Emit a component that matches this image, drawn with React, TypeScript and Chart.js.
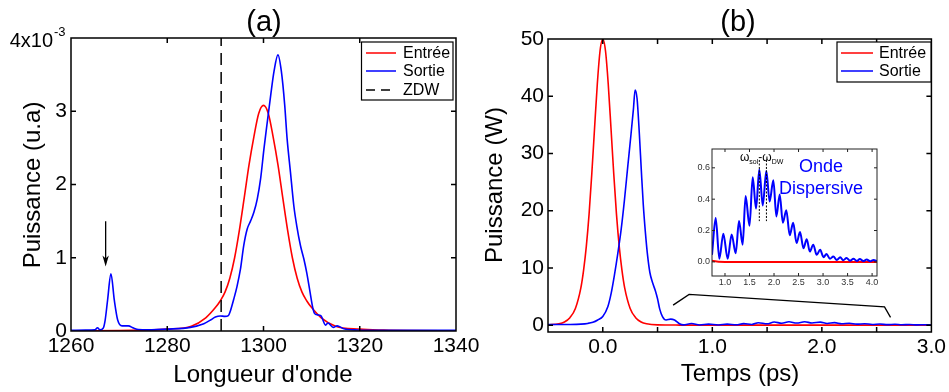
import React, { useEffect, useRef } from "react";
import { Chart, registerables } from "chart.js";

Chart.register(...registerables);

const FONT = "'Liberation Sans', Arial, Helvetica, sans-serif";
const RED = "rgb(255,0,0)";
const BLUE = "rgb(0,0,255)";

// ---------- Panel (a): spectrum ----------
const wavelengthIn = [1260, 1270, 1275, 1280, 1285, 1288, 1290, 1291, 1292, 1293, 1294, 1295, 1296, 1297, 1298, 1299, 1300, 1301, 1302, 1303, 1304, 1305, 1306, 1307, 1308, 1309, 1310, 1312, 1315, 1320, 1325, 1330, 1340];
const powerSpecIn = [0.004, 0.006, 0.012, 0.025, 0.065, 0.18, 0.32, 0.41, 0.53, 0.72, 1.0, 1.38, 1.82, 2.27, 2.65, 2.97, 3.08, 2.97, 2.65, 2.27, 1.82, 1.38, 1.0, 0.72, 0.53, 0.41, 0.32, 0.18, 0.065, 0.025, 0.012, 0.006, 0.003];
const wavelengthOut = [1260, 1263, 1265, 1265.5, 1266, 1266.7, 1267.1, 1267.6, 1268.3, 1269.0, 1269.7, 1270.6, 1271.9, 1273.0, 1274, 1276, 1280, 1284.8, 1287.6, 1289, 1290, 1291, 1292, 1292.7, 1293.1, 1293.8, 1294.5, 1295.2, 1295.9, 1296.6, 1297.3, 1298.0, 1298.7, 1299.4, 1300.1, 1300.8, 1301.5, 1302.2, 1303.0, 1303.7, 1304.4, 1304.9, 1305.6, 1306.3, 1306.9, 1307.7, 1308.4, 1309.0, 1309.7, 1310.2, 1310.6, 1311.2, 1311.9, 1312.9, 1313.4, 1314.5, 1315.3, 1316.7, 1319.5, 1325, 1340];
const powerSpecOut = [0.01, 0.012, 0.015, 0.045, 0.015, 0.04, 0.15, 0.42, 0.78, 0.42, 0.15, 0.07, 0.07, 0.04, 0.02, 0.015, 0.025, 0.05, 0.1, 0.15, 0.19, 0.205, 0.2, 0.21, 0.27, 0.43, 0.61, 0.84, 1.17, 1.39, 1.5, 1.62, 1.8, 2.08, 2.49, 2.86, 3.22, 3.55, 3.77, 3.55, 3.09, 2.63, 2.17, 1.71, 1.44, 1.16, 0.98, 0.79, 0.52, 0.33, 0.24, 0.22, 0.21, 0.08, 0.11, 0.05, 0.07, 0.03, 0.014, 0.01, 0.01];
const zdwWavelength = 1291.2;
const aXTicks = [1260, 1280, 1300, 1320, 1340];
const aYTicks = [0, 1, 2, 3, 4];
const arrowA = { x: 1267.2, yTop: 1.5, yTip: 0.88 };

// ---------- Panel (b): temporal ----------
const timeIn = [-0.5, -0.4, -0.35, -0.3, -0.25, -0.2, -0.175, -0.15, -0.125, -0.1, -0.075, -0.05, -0.025, 0, 0.025, 0.05, 0.075, 0.1, 0.125, 0.15, 0.175, 0.2, 0.25, 0.3, 0.35, 0.4, 0.5, 0.7, 1.0, 2.0, 3.0, 4.1];
const powerTimeIn = [0.05, 0.24, 0.55, 1.3, 2.9, 6.5, 9.6, 13.8, 19.4, 26.5, 34.4, 42.1, 47.9, 50, 47.9, 42.1, 34.4, 26.5, 19.4, 13.8, 9.6, 6.5, 2.9, 1.3, 0.55, 0.24, 0.05, 0.01, 0, 0, 0, 0];
const timeOutPulse = [-0.5, -0.3, -0.2, -0.137, -0.09, -0.046, 0, 0.046, 0.076, 0.106, 0.137, 0.167, 0.198, 0.228, 0.258, 0.28, 0.295, 0.313, 0.334, 0.352, 0.37, 0.39, 0.41, 0.43, 0.455, 0.48, 0.5, 0.52, 0.545, 0.578, 0.62, 0.655, 0.7];
const powerOutPulse = [0.1, 0.12, 0.18, 0.3, 0.5, 0.9, 1.5, 3.2, 5.5, 8.7, 12.5, 16.6, 21.9, 27.7, 33.4, 37.8, 41.1, 39.6, 33.4, 27, 21, 16, 12, 9.2, 7.4, 6.0, 4.6, 2.8, 1.5, 0.9, 1.05, 0.9, 0.25];
// dispersive wave (tail of output, also shown in the inset)
const timeDW = [0.735, 0.81, 0.885, 0.966, 1.054, 1.136, 1.218, 1.286, 1.36, 1.42, 1.5, 1.565, 1.633, 1.7, 1.77, 1.843, 1.91, 1.986, 2.048, 2.116, 2.18, 2.25, 2.32, 2.39, 2.46, 2.53, 2.6, 2.667, 2.73, 2.8, 2.87, 2.94, 3.01, 3.07, 3.14, 3.21, 3.28, 3.35, 3.41, 3.48, 3.55, 3.62, 3.69, 3.75, 3.82, 3.89, 3.96, 4.03, 4.1];
const powerDW = [0.045, 0.28, 0.02, 0.18, 0.02, 0.175, 0.055, 0.26, 0.11, 0.42, 0.23, 0.54, 0.34, 0.59, 0.36, 0.58, 0.385, 0.52, 0.29, 0.43, 0.25, 0.33, 0.17, 0.25, 0.12, 0.19, 0.087, 0.145, 0.066, 0.11, 0.045, 0.077, 0.03, 0.05, 0.02, 0.035, 0.012, 0.03, 0.01, 0.025, 0.008, 0.02, 0.006, 0.018, 0.005, 0.015, 0.004, 0.012, 0.005];
const bXTicks = [-0.5, 0, 0.5, 1, 1.5, 2, 2.5, 3];
const bYTicks = [0, 10, 20, 30, 40, 50];
const zoomBracket = [
  { x: 0.642, y: 3.5 },
  { x: 0.788, y: 5.37 },
  { x: 2.572, y: 3.2 },
  { x: 2.627, y: 1.35 },
];

// ---------- Inset ----------
const insetXTicks = [1.0, 1.5, 2.0, 2.5, 3.0, 3.5, 4.0];
const insetYTicks = [0, 0.2, 0.4, 0.6];
const omegaMarks = [1.7, 1.845];
const omegaMarkRange = [0.26, 0.65];

const toPts = (xs: number[], ys: number[]) => xs.map((x, i) => ({ x, y: ys[i] }));

function makeFrame(tickLen: number, lineWidth: number, color: string, bg?: string) {
  return {
    id: "frameTicks",
    beforeDatasetsDraw(chart: any) {
      if (!bg) return;
      const { ctx, chartArea } = chart;
      ctx.save();
      ctx.fillStyle = bg;
      ctx.fillRect(chartArea.left, chartArea.top, chartArea.right - chartArea.left, chartArea.bottom - chartArea.top);
      ctx.restore();
    },
    afterDatasetsDraw(chart: any) {
      const { ctx, chartArea } = chart;
      const { left, right, top, bottom } = chartArea;
      const xs = chart.scales.x;
      const ys = chart.scales.y;
      ctx.save();
      ctx.strokeStyle = color;
      ctx.lineWidth = lineWidth;
      ctx.beginPath();
      xs.ticks.forEach((t: any) => {
        const p = xs.getPixelForValue(t.value);
        if (p <= left + 1 || p >= right - 1) return;
        ctx.moveTo(p, bottom);
        ctx.lineTo(p, bottom - tickLen);
        ctx.moveTo(p, top);
        ctx.lineTo(p, top + tickLen);
      });
      ys.ticks.forEach((t: any) => {
        const p = ys.getPixelForValue(t.value);
        if (p <= top + 1 || p >= bottom - 1) return;
        ctx.moveTo(left, p);
        ctx.lineTo(left + tickLen, p);
        ctx.moveTo(right, p);
        ctx.lineTo(right - tickLen, p);
      });
      ctx.stroke();
      ctx.strokeRect(left, top, right - left, bottom - top);
      ctx.restore();
    },
  };
}

function makeOverlay(draw: (chart: any, ctx: CanvasRenderingContext2D) => void) {
  return {
    id: "overlayText",
    afterDraw(chart: any) {
      const ctx = chart.ctx as CanvasRenderingContext2D;
      ctx.save();
      draw(chart, ctx);
      ctx.restore();
    },
  };
}

function drawLegend(
  ctx: CanvasRenderingContext2D,
  box: { x: number; y: number; w: number; h: number },
  items: { label: string; color: string; dash?: number[]; y: number }[],
  lineX0: number,
  lineX1: number,
  textX: number
) {
  ctx.fillStyle = "#fff";
  ctx.fillRect(box.x, box.y, box.w, box.h);
  ctx.strokeStyle = "#000";
  ctx.lineWidth = 1.2;
  ctx.strokeRect(box.x, box.y, box.w, box.h);
  items.forEach((it) => {
    ctx.beginPath();
    ctx.strokeStyle = it.color;
    ctx.lineWidth = 1.5;
    ctx.setLineDash(it.dash || []);
    ctx.moveTo(lineX0, it.y);
    ctx.lineTo(lineX1, it.y);
    ctx.stroke();
    ctx.setLineDash([]);
    ctx.fillStyle = "#000";
    ctx.font = `16px ${FONT}`;
    ctx.textAlign = "left";
    ctx.textBaseline = "middle";
    ctx.fillText(it.label, textX, it.y + 1);
  });
}

function drawRotated(ctx: CanvasRenderingContext2D, text: string, x: number, y: number, font: string) {
  ctx.save();
  ctx.translate(x, y);
  ctx.rotate(-Math.PI / 2);
  ctx.font = font;
  ctx.fillStyle = "#000";
  ctx.textAlign = "center";
  ctx.textBaseline = "alphabetic";
  ctx.fillText(text, 0, 0);
  ctx.restore();
}

function drawCentered(ctx: CanvasRenderingContext2D, text: string, x: number, y: number, font: string, color = "#000") {
  ctx.font = font;
  ctx.fillStyle = color;
  ctx.textAlign = "center";
  ctx.textBaseline = "alphabetic";
  ctx.fillText(text, x, y);
}

const tickFont = { family: FONT, size: 21 };

function configA(): any {
  return {
    type: "line",
    data: {
      datasets: [
        { label: "ZDW", data: [{ x: zdwWavelength, y: 0 }, { x: zdwWavelength, y: 4 }], borderColor: "#000", borderWidth: 1.5, borderDash: [12, 7], pointRadius: 0, tension: 0, order: 1 },
        { label: "Sortie", data: toPts(wavelengthOut, powerSpecOut), borderColor: BLUE, borderWidth: 1.6, pointRadius: 0, cubicInterpolationMode: "monotone", order: 2 },
        { label: "Entrée", data: toPts(wavelengthIn, powerSpecIn), borderColor: RED, borderWidth: 1.6, pointRadius: 0, cubicInterpolationMode: "monotone", order: 3 },
      ],
    },
    options: {
      animation: false,
      responsive: false,
      devicePixelRatio: 1,
      layout: { padding: { left: 0, top: 38, right: 949 - 456, bottom: 0 } },
      plugins: { legend: { display: false }, tooltip: { enabled: false } },
      scales: {
        x: {
          type: "linear", min: 1260, max: 1340,
          afterBuildTicks: (s: any) => { s.ticks = aXTicks.map((v) => ({ value: v })); },
          afterFit: (s: any) => { s.height = 392 - 331; },
          grid: { display: false, drawTicks: false }, border: { display: false },
          ticks: { font: tickFont, color: "#000", padding: 3, maxRotation: 0, autoSkip: false, callback: (v: any) => String(v) },
        },
        y: {
          type: "linear", min: 0, max: 4,
          afterBuildTicks: (s: any) => { s.ticks = aYTicks.map((v) => ({ value: v })); },
          afterFit: (s: any) => { s.width = 71; },
          grid: { display: false, drawTicks: false }, border: { display: false },
          ticks: { font: tickFont, color: "#000", padding: 4, autoSkip: false, callback: (v: any) => (v === 4 ? "" : String(v)) },
        },
      },
    },
    plugins: [
      makeFrame(5, 1.5, "#000"),
      makeOverlay((chart, ctx) => {
        const xs = chart.scales.x, ys = chart.scales.y;
        drawCentered(ctx, "(a)", 264, 31, `29px ${FONT}`);
        drawCentered(ctx, "Longueur d'onde", 263, 382, `24px ${FONT}`);
        drawRotated(ctx, "Puissance (u.a)", 40, 185, `24px ${FONT}`);
        // 4x10^-3
        ctx.font = `20px ${FONT}`;
        ctx.fillStyle = "#000";
        ctx.textAlign = "right";
        ctx.textBaseline = "alphabetic";
        ctx.fillText("4x10", 53, 47);
        ctx.font = `13px ${FONT}`;
        ctx.textAlign = "left";
        ctx.fillText("-3", 54, 36);
        // arrow
        const ax = xs.getPixelForValue(arrowA.x);
        const ay0 = ys.getPixelForValue(arrowA.yTop);
        const ay1 = ys.getPixelForValue(arrowA.yTip);
        ctx.strokeStyle = "#000";
        ctx.lineWidth = 1.3;
        ctx.beginPath();
        ctx.moveTo(ax, ay0);
        ctx.lineTo(ax, ay1 - 4);
        ctx.stroke();
        ctx.fillStyle = "#000";
        ctx.beginPath();
        ctx.moveTo(ax, ay1);
        ctx.lineTo(ax - 3.2, ay1 - 11);
        ctx.lineTo(ax, ay1 - 8);
        ctx.lineTo(ax + 3.2, ay1 - 11);
        ctx.closePath();
        ctx.fill();
        drawLegend(ctx, { x: 361.5, y: 42, w: 91.5, h: 58 }, [
          { label: "Entrée", color: RED, y: 53 },
          { label: "Sortie", color: BLUE, y: 71 },
          { label: "ZDW", color: "#000", dash: [9, 6], y: 90 },
        ], 366, 396, 403);
      }),
    ],
  };
}

function configB(): any {
  return {
    type: "line",
    data: {
      datasets: [
        { label: "Sortie", data: toPts(timeOutPulse.concat(timeDW), powerOutPulse.concat(powerDW)), borderColor: BLUE, borderWidth: 1.6, pointRadius: 0, cubicInterpolationMode: "monotone", order: 1 },
        { label: "Entrée", data: toPts(timeIn, powerTimeIn), borderColor: RED, borderWidth: 1.6, pointRadius: 0, cubicInterpolationMode: "monotone", order: 2 },
      ],
    },
    options: {
      animation: false,
      responsive: false,
      devicePixelRatio: 1,
      layout: { padding: { left: 477, top: 39, right: 949 - 932, bottom: 0 } },
      plugins: { legend: { display: false }, tooltip: { enabled: false } },
      scales: {
        x: {
          type: "linear", min: -0.5, max: 3.0,
          afterBuildTicks: (s: any) => { s.ticks = bXTicks.map((v) => ({ value: v })); },
          afterFit: (s: any) => { s.height = 392 - 332; },
          grid: { display: false, drawTicks: false }, border: { display: false },
          ticks: { font: tickFont, color: "#000", padding: 3, maxRotation: 0, autoSkip: false, callback: (v: any) => (Number.isInteger(v) ? Number(v).toFixed(1) : "") },
        },
        y: {
          type: "linear", min: -1.2, max: 50,
          afterBuildTicks: (s: any) => { s.ticks = bYTicks.map((v) => ({ value: v })); },
          afterFit: (s: any) => { s.width = 71; },
          grid: { display: false, drawTicks: false }, border: { display: false },
          ticks: { font: tickFont, color: "#000", padding: 4, autoSkip: false, callback: (v: any) => String(v) },
        },
      },
    },
    plugins: [
      makeFrame(5, 1.5, "#000"),
      makeOverlay((chart, ctx) => {
        const xs = chart.scales.x, ys = chart.scales.y;
        drawCentered(ctx, "(b)", 738, 31, `29px ${FONT}`);
        drawCentered(ctx, "Temps (ps)", 740, 381, `24px ${FONT}`);
        drawRotated(ctx, "Puissance (W)", 502, 185, `24px ${FONT}`);
        ctx.strokeStyle = "#000";
        ctx.lineWidth = 1.3;
        ctx.beginPath();
        zoomBracket.forEach((p, i) => {
          const px = xs.getPixelForValue(p.x), py = ys.getPixelForValue(p.y);
          if (i === 0) ctx.moveTo(px, py); else ctx.lineTo(px, py);
        });
        ctx.stroke();
        drawLegend(ctx, { x: 837, y: 42, w: 94, h: 40 }, [
          { label: "Entrée", color: RED, y: 53 },
          { label: "Sortie", color: BLUE, y: 71 },
        ], 841, 873, 879);
      }),
    ],
  };
}

const insetFont = { family: FONT, size: 9 };

function configInset(): any {
  return {
    type: "line",
    data: {
      datasets: [
        { label: "Sortie", data: toPts(timeDW, powerDW), borderColor: BLUE, borderWidth: 2, pointRadius: 0, cubicInterpolationMode: "monotone", order: 1 },
        { label: "Entrée", data: toPts(timeIn, powerTimeIn), borderColor: RED, borderWidth: 2, pointRadius: 0, cubicInterpolationMode: "monotone", order: 2 },
      ],
    },
    options: {
      animation: false,
      responsive: false,
      devicePixelRatio: 1,
      layout: { padding: { left: 680, top: 149, right: 949 - 877, bottom: 392 - 290 } },
      plugins: { legend: { display: false }, tooltip: { enabled: false } },
      scales: {
        x: {
          type: "linear", min: 0.735, max: 4.1,
          afterBuildTicks: (s: any) => { s.ticks = insetXTicks.map((v) => ({ value: v })); },
          afterFit: (s: any) => { s.height = 14; },
          grid: { display: false, drawTicks: false }, border: { display: false },
          ticks: { font: insetFont, color: "#333", padding: 1, maxRotation: 0, autoSkip: false, callback: (v: any) => Number(v).toFixed(1) },
        },
        y: {
          type: "linear", min: -0.09, max: 0.72,
          afterBuildTicks: (s: any) => { s.ticks = insetYTicks.map((v) => ({ value: v })); },
          afterFit: (s: any) => { s.width = 32; },
          grid: { display: false, drawTicks: false }, border: { display: false },
          ticks: { font: insetFont, color: "#333", padding: 2, autoSkip: false, callback: (v: any) => Number(v).toFixed(1) },
        },
      },
    },
    plugins: [
      makeFrame(3, 1, "#222", "#fff"),
      makeOverlay((chart, ctx) => {
        const xs = chart.scales.x, ys = chart.scales.y;
        ctx.strokeStyle = "#000";
        ctx.lineWidth = 1;
        ctx.setLineDash([2, 1.5]);
        omegaMarks.forEach((m) => {
          const px = xs.getPixelForValue(m);
          ctx.beginPath();
          ctx.moveTo(px, ys.getPixelForValue(omegaMarkRange[1]));
          ctx.lineTo(px, ys.getPixelForValue(omegaMarkRange[0]));
          ctx.stroke();
        });
        ctx.setLineDash([]);
        // omega_sol - omega_DW label
        ctx.fillStyle = "#000";
        ctx.textAlign = "left";
        ctx.textBaseline = "alphabetic";
        let x = 740;
        const parts: [string, number, number][] = [["ω", 12, 161], ["sol", 7, 164], ["-ω", 12, 161], ["DW", 7, 164]];
        parts.forEach(([t, size, base]) => {
          ctx.font = `${size}px ${FONT}`;
          ctx.fillText(t, x, base);
          x += ctx.measureText(t).width;
        });
        drawCentered(ctx, "Onde", 821, 172, `18px ${FONT}`, BLUE);
        drawCentered(ctx, "Dispersive", 821, 194, `18px ${FONT}`, BLUE);
      }),
    ],
  };
}

export default function App() {
  const refA = useRef<HTMLCanvasElement>(null);
  const refB = useRef<HTMLCanvasElement>(null);
  const refI = useRef<HTMLCanvasElement>(null);

  useEffect(() => {
    const charts: Chart[] = [];
    if (refA.current) charts.push(new Chart(refA.current, configA()));
    if (refB.current) charts.push(new Chart(refB.current, configB()));
    if (refI.current) charts.push(new Chart(refI.current, configInset()));
    return () => charts.forEach((c) => c.destroy());
  }, []);

  const cs: React.CSSProperties = { position: "absolute", left: 0, top: 0, width: 949, height: 392 };
  return (
    <div style={{ position: "fixed", left: 0, top: 0, width: 949, height: 392, background: "#fff", overflow: "hidden" }}>
      <canvas ref={refA} width={949} height={392} style={cs} />
      <canvas ref={refB} width={949} height={392} style={cs} />
      <canvas ref={refI} width={949} height={392} style={cs} />
    </div>
  );
}
